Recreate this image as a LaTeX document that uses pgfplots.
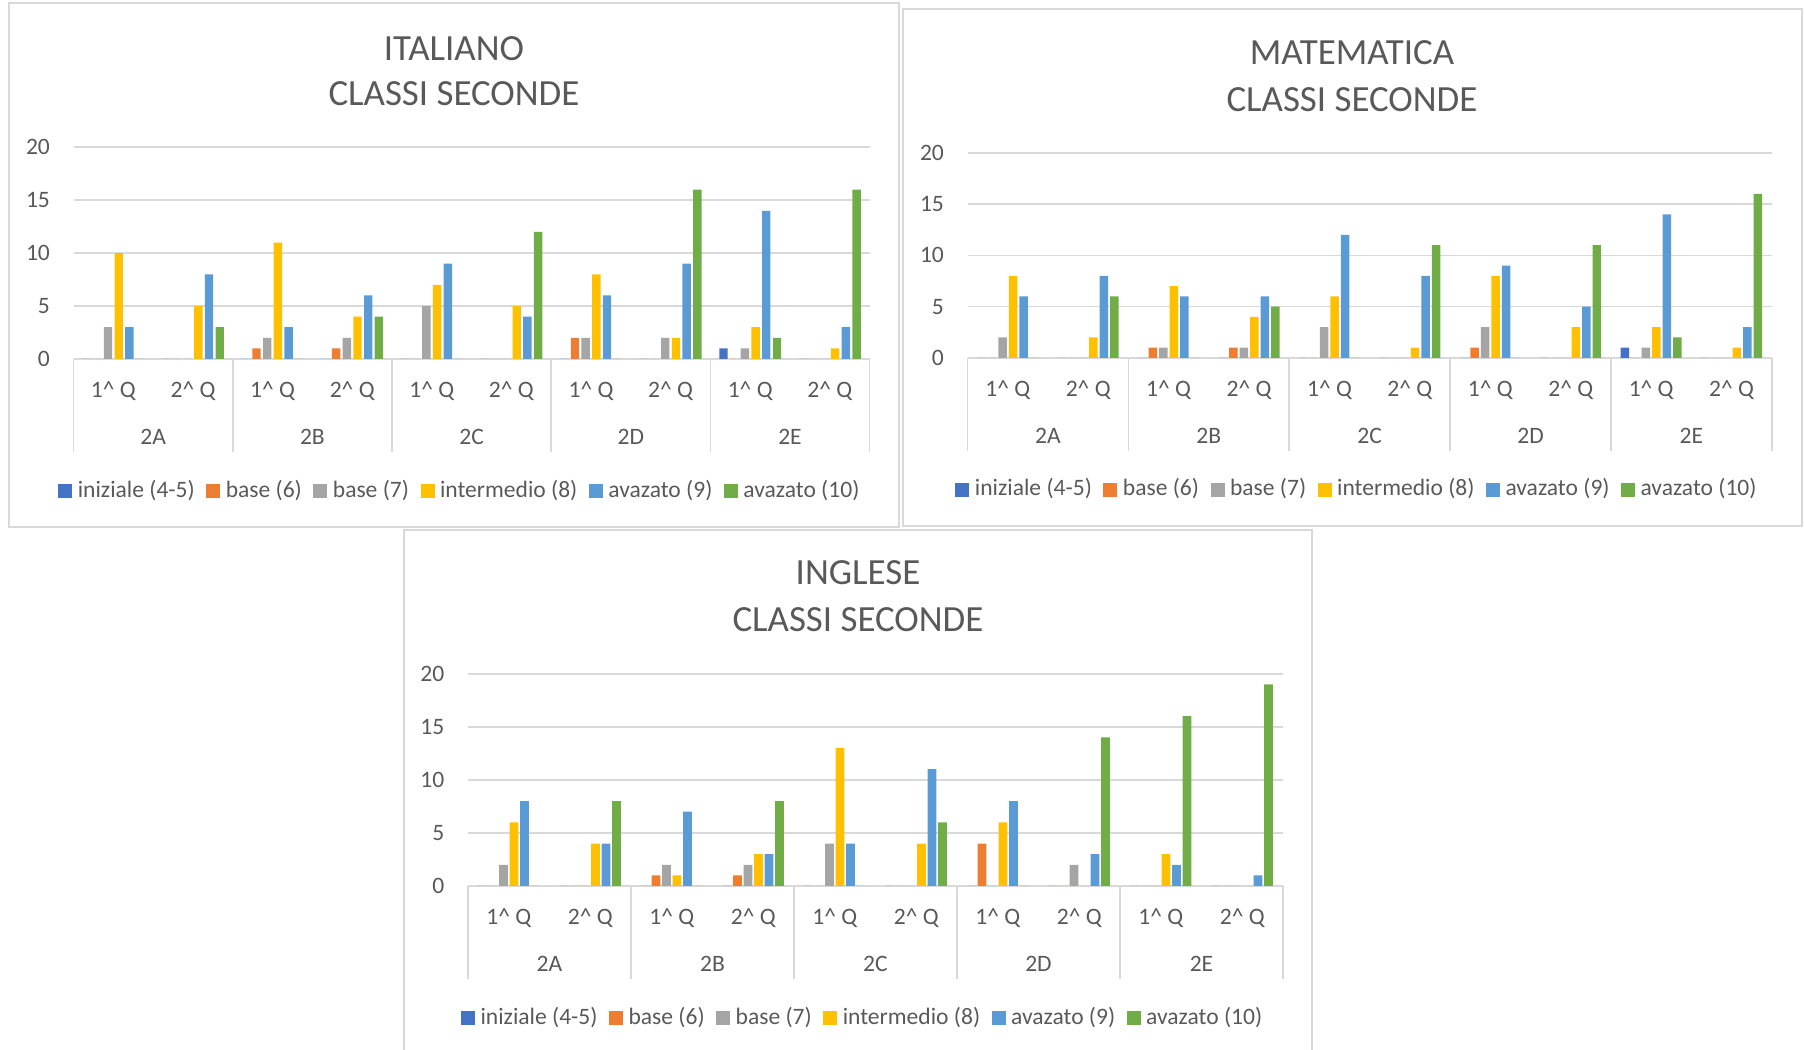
\documentclass[border=0pt]{standalone}
\usepackage{pgfplots}
\usepackage{pgfplotstable}
\pgfplotsset{compat=1.18}
\usepackage{fontspec}
\setmainfont{Carlito}

\definecolor{txt}{HTML}{595959}
\definecolor{gridc}{HTML}{D9D9D9}
\definecolor{cA}{HTML}{4472C4}
\definecolor{cB}{HTML}{ED7D31}
\definecolor{cC}{HTML}{A5A5A5}
\definecolor{cD}{HTML}{FFC000}
\definecolor{cE}{HTML}{5B9BD5}
\definecolor{cF}{HTML}{70AD47}

% columns: iniziale, base(6), base(7), intermedio, avazato(9), avazato(10)
\pgfplotstableread{
x s1 s2 s3 s4 s5 s6
0 0 0 3 10 3 0
1 0 0 0 5 8 3
2 0 1 2 11 3 0
3 0 1 2 4 6 4
4 0 0 5 7 9 0
5 0 0 0 5 4 12
6 0 2 2 8 6 0
7 0 0 2 2 9 16
8 1 0 1 3 14 2
9 0 0 0 1 3 16
}\italiano

\pgfplotstableread{
x s1 s2 s3 s4 s5 s6
0 0 0 2 8 6 0
1 0 0 0 2 8 6
2 0 1 1 7 6 0
3 0 1 1 4 6 5
4 0 0 3 6 12 0
5 0 0 0 1 8 11
6 0 1 3 8 9 0
7 0 0 0 3 5 11
8 1 0 1 3 14 2
9 0 0 0 1 3 16
}\matematica

\pgfplotstableread{
x s1 s2 s3 s4 s5 s6
0 0 0 2 6 8 0
1 0 0 0 4 4 8
2 0 1 2 1 7 0
3 0 1 2 3 3 8
4 0 0 4 13 4 0
5 0 0 0 4 11 6
6 0 4 0 6 8 0
7 0 0 2 0 3 14
8 0 0 0 3 2 16
9 0 0 0 0 1 19
}\inglese

\newcommand\smallf{\fontsize{6.7}{8}\selectfont}
\newcommand\titlef{\fontsize{10.5}{12.6}\selectfont}

\tikzset{
  sep/.style={gridc, line width=0.17mm},
  grp/.style={font=\smallf, text=txt},
  ttl/.style={font=\titlef, text=txt},
}

\pgfplotsset{
  sq legend/.style={legend image code/.code={\fill[##1] (0mm,-0.7mm) rectangle (1.4mm,0.7mm);}},
  ser/.style={fill=#1, draw=none},
  office/.style={
    scale only axis, anchor=south west, clip=false,
    xmin=-0.5, xmax=9.5, ymin=0, ymax=20,
    axis line style={draw=none},
    xtick={0,...,9},
    xticklabels={1\textasciicircum{} Q,2\textasciicircum{} Q,1\textasciicircum{} Q,2\textasciicircum{} Q,1\textasciicircum{} Q,2\textasciicircum{} Q,1\textasciicircum{} Q,2\textasciicircum{} Q,1\textasciicircum{} Q,2\textasciicircum{} Q},
    ytick={0,5,10,15,20},
    major tick length=0pt,
    tick style={draw=none},
    ymajorgrids, grid style={gridc, line width=0.17mm},
    tick label style={font=\smallf, text=txt},
    /pgf/number format/assume math mode=true,
    xticklabel style={anchor=center, inner sep=0pt, yshift=-3.2mm},
    yticklabel style={anchor=east, inner sep=0pt, xshift=-2.3mm},
    legend columns=6,
    legend style={draw=none, fill=none, anchor=center, font=\smallf, text=txt,
      nodes={inner sep=0pt},
      /tikz/every odd column/.append style={column sep=0.55mm},
      /tikz/every even column/.append style={column sep=1.15mm}},
    every axis plot post/.append style={sq legend},
  },
}

\newcommand\series[1]{%
  \addplot[ser=cA] table[x=x,y=s1] {#1};
  \addplot[ser=cB] table[x=x,y=s2] {#1};
  \addplot[ser=cC] table[x=x,y=s3] {#1};
  \addplot[ser=cD] table[x=x,y=s4] {#1};
  \addplot[ser=cE] table[x=x,y=s5] {#1};
  \addplot[ser=cF] table[x=x,y=s6] {#1};
  \legend{iniziale (4-5),base (6),base (7),intermedio (8),avazato (9),avazato (10)}
  \pgfplotsinvokeforeach{-0.5,1.5,3.5,5.5,7.5,9.5}{\draw[sep] (axis cs:##1,0) -- ([yshift=-9.3mm]axis cs:##1,0);}
  \node[grp] at (axis cs:0.5,0) [yshift=-7.8mm] {2A};
  \node[grp] at (axis cs:2.5,0) [yshift=-7.8mm] {2B};
  \node[grp] at (axis cs:4.5,0) [yshift=-7.8mm] {2C};
  \node[grp] at (axis cs:6.5,0) [yshift=-7.8mm] {2D};
  \node[grp] at (axis cs:8.5,0) [yshift=-7.8mm] {2E};
}

\begin{document}
\begin{tikzpicture}[x=0.1mm,y=0.1mm]
\useasboundingbox (0,0) rectangle (1804,1050);

% frames
\draw[sep] (9,1047) rectangle (899,523);
\draw[sep] (903,1041) rectangle (1802,524);
\draw[sep] (404,-10) -- (404,520) -- (1312,520) -- (1312,-10);

% titles
\node[ttl] at (454,1001.7) {ITALIANO};
\node[ttl] at (454,956.8) {CLASSI SECONDE};
\node[ttl] at (1352,997.1) {MATEMATICA};
\node[ttl] at (1352,949.9) {CLASSI SECONDE};
\node[ttl] at (858,477) {INGLESE};
\node[ttl] at (858,430) {CLASSI SECONDE};

\begin{axis}[office, at={(7.36mm,69.1mm)}, width=79.6mm, height=21.17mm,
  ybar=0.23mm, bar width=0.84mm,
  legend style={at={(0.484,-0.625)}}]
\series{\italiano}
\end{axis}

\begin{axis}[office, at={(96.76mm,69.22mm)}, width=80.42mm, height=20.48mm,
  ybar=0.2mm, bar width=0.85mm,
  legend style={at={(0.483,-0.645)}}]
\series{\matematica}
\end{axis}

\begin{axis}[office, at={(46.8mm,16.4mm)}, width=81.5mm, height=21.23mm,
  ybar=0.18mm, bar width=0.87mm,
  legend style={at={(0.483,-0.622)}}]
\series{\inglese}
\end{axis}
\end{tikzpicture}
\end{document}
